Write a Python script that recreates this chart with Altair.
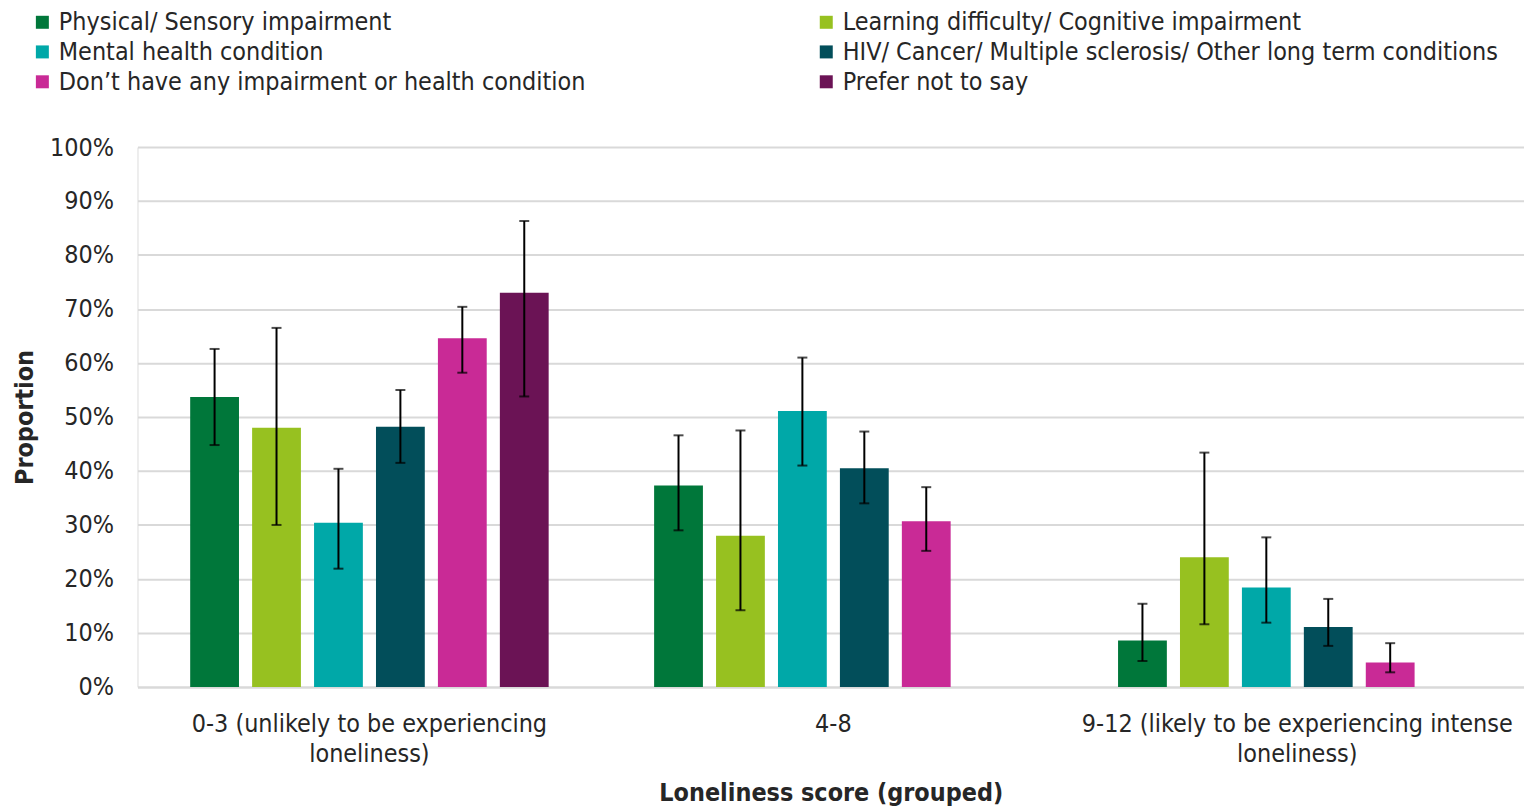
import altair as alt
import pandas as pd

groups = ["0-3 (unlikely to be experiencing|loneliness)", "4-8",
          "9-12 (likely to be experiencing intense|loneliness)"]
series = ["Physical/ Sensory impairment", "Learning difficulty/ Cognitive impairment",
          "Mental health condition", "HIV/ Cancer/ Multiple sclerosis/ Other long term conditions",
          "Don\u2019t have any impairment or health condition", "Prefer not to say"]
colors = ["#00773A", "#97C120", "#00A8A8", "#024E5A", "#C92A96", "#6B1355"]

# values per group, in series order (None = not shown)
g1_val = [0.537, 0.480, 0.304, 0.482, 0.646, 0.730]
g1_lo = [0.448, 0.300, 0.219, 0.415, 0.582, 0.538]
g1_hi = [0.626, 0.665, 0.404, 0.550, 0.704, 0.863]
g2_val = [0.373, 0.280, 0.511, 0.405, 0.307, None]
g2_lo = [0.290, 0.142, 0.410, 0.340, 0.252, None]
g2_hi = [0.466, 0.475, 0.610, 0.473, 0.370, None]
g3_val = [0.086, 0.240, 0.184, 0.111, 0.045, None]
g3_lo = [0.048, 0.116, 0.119, 0.076, 0.027, None]
g3_hi = [0.154, 0.434, 0.277, 0.163, 0.081, None]

rows = []
for g, vals, los, his in zip(groups, [g1_val, g2_val, g3_val], [g1_lo, g2_lo, g3_lo], [g1_hi, g2_hi, g3_hi]):
    for s, v, lo, hi in zip(series, vals, los, his):
        if v is not None:
            rows.append({"group": g, "series": s, "value": v, "lo": lo, "hi": hi})
df = pd.DataFrame(rows)

# legend is filled column by column: reorder so rows read as in the original
legend_order = [0, 2, 4, 1, 3, 5]
legend_domain = [series[i] for i in legend_order]
legend_range = [colors[i] for i in legend_order]

FONT = "Tahoma, DejaVu Sans Condensed, Liberation Sans, sans-serif"
TXT = "#262626"

x_enc = alt.X("group:N", sort=groups, title="Loneliness score (grouped)",
              scale=alt.Scale(paddingInner=0.199, paddingOuter=0.0938, align=0.53),
              axis=alt.Axis(labelAngle=0, labelExpr="split(datum.label, '|')",
                            labelFontSize=25, labelLineHeight=30, labelPadding=25,
                            labelColor=TXT, titleFontSize=25, titleFontWeight="bold",
                            titleColor=TXT, titlePadding=14, ticks=False,
                            domainColor="#d9d9d9", domainWidth=2, labelLimit=600))
xo = alt.XOffset("series:N", scale=alt.Scale(domain=series, paddingInner=0.212, paddingOuter=0.106))
y_scale = alt.Scale(domain=[0, 1])

bars = alt.Chart(df).mark_bar().encode(
    x=x_enc, xOffset=xo,
    y=alt.Y("value:Q", scale=y_scale, title="Proportion",
            axis=alt.Axis(format=".0%", values=[i / 10 for i in range(11)],
                          labelFontSize=25, labelColor=TXT, labelPadding=24,
                          titleFontSize=25, titleFontWeight="bold", titleColor=TXT,
                          titlePadding=12, domain=False, ticks=False,
                          gridColor="#d9d9d9", gridWidth=2)),
    color=alt.Color("series:N", scale=alt.Scale(domain=legend_domain, range=legend_range),
                    legend=alt.Legend(title=None, orient="none", legendX=-108, legendY=-138,
                                      columns=2, columnPadding=229, rowPadding=4,
                                      symbolType="square", symbolSize=170, symbolStrokeWidth=0,
                                      labelFontSize=25, labelColor=TXT, labelLimit=800,
                                      labelOffset=4)),
)

rules = alt.Chart(df).mark_rule(color="black", strokeWidth=2).encode(
    x=alt.X("group:N", sort=groups), xOffset=xo,
    y=alt.Y("lo:Q", scale=y_scale), y2="hi:Q")
cap_lo = alt.Chart(df).mark_tick(color="black", thickness=2, size=10).encode(
    x=alt.X("group:N", sort=groups), xOffset=xo, y=alt.Y("lo:Q", scale=y_scale))
cap_hi = alt.Chart(df).mark_tick(color="black", thickness=2, size=10).encode(
    x=alt.X("group:N", sort=groups), xOffset=xo, y=alt.Y("hi:Q", scale=y_scale))

chart = alt.layer(bars, rules, cap_lo, cap_hi).properties(
    width=1392, height=542,
    autosize=alt.AutoSizeParams(type="none"),
    padding={"left": 130, "top": 138, "right": 0, "bottom": 124},
).configure_view(stroke=None).configure(font=FONT)

chart.save("out.html", embed_options={"renderer": "svg", "actions": False})
